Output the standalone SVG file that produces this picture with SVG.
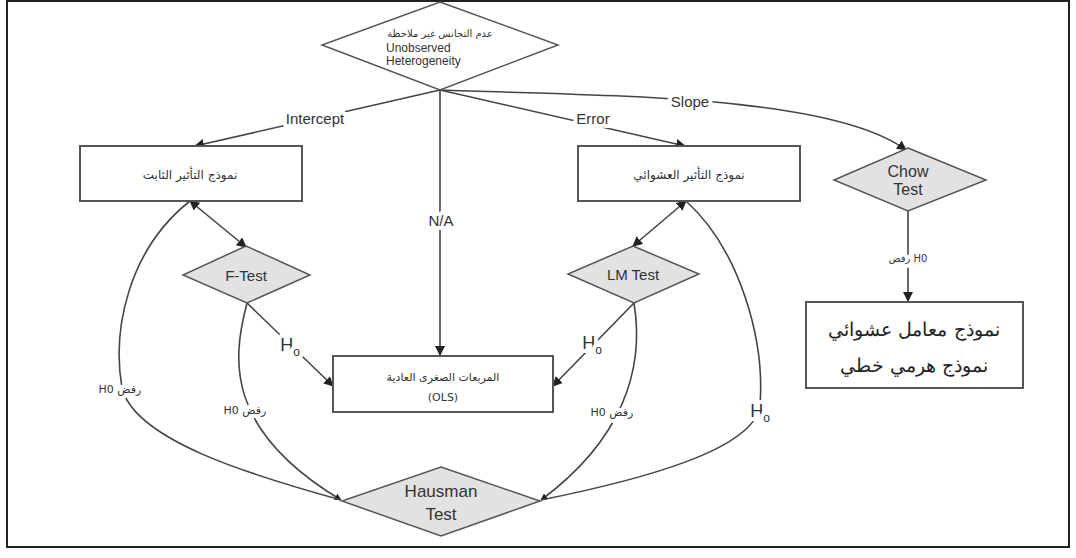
<svg xmlns="http://www.w3.org/2000/svg" width="1076" height="558" viewBox="0 0 1076 558">
<style>
.box{fill:#fff;stroke:#555;stroke-width:2}
.dia{fill:#e2e2e2;stroke:#555;stroke-width:1.5}
.ln{fill:none;stroke:#444;stroke-width:1.6}
.en{font-family:"Liberation Sans",Arial,sans-serif;fill:#333}
.ar{font-family:"DejaVu Sans","Noto Sans",sans-serif;fill:#333}
.lbl{paint-order:stroke;stroke:#fff;stroke-width:8px;stroke-linejoin:round}
</style>
<defs>
<marker id="ah" viewBox="0 0 10 10" refX="9" refY="5" markerWidth="7" markerHeight="7" orient="auto-start-reverse" markerUnits="userSpaceOnUse">
<path d="M0,0 L10,5 L0,10 z" fill="#222"/>
</marker>
<marker id="ah2" viewBox="0 0 10 10" refX="9" refY="5" markerWidth="10" markerHeight="10" orient="auto-start-reverse" markerUnits="userSpaceOnUse">
<path d="M0,0 L10,5 L0,10 z" fill="#222"/>
</marker>
</defs>
<rect x="7" y="1" width="1062" height="546" fill="#fff" stroke="#222" stroke-width="2"/>

<g id="connectors">
<line class="ln" x1="440" y1="90" x2="195" y2="146" marker-end="url(#ah2)"/>
<line class="ln" x1="440" y1="90" x2="440" y2="355" marker-end="url(#ah2)"/>
<line class="ln" x1="440" y1="90" x2="685" y2="146" marker-end="url(#ah2)"/>
<path class="ln" d="M440,90 C600,96 830,94 906,150" marker-end="url(#ah2)"/>
<line class="ln" x1="908" y1="211" x2="908" y2="301" marker-end="url(#ah2)"/>
<line class="ln" x1="190" y1="201" x2="246" y2="247" marker-start="url(#ah2)" marker-end="url(#ah2)"/>
<line class="ln" x1="686" y1="201" x2="633" y2="246" marker-start="url(#ah2)" marker-end="url(#ah2)"/>
<line class="ln" x1="247" y1="303" x2="333" y2="386" marker-end="url(#ah2)"/>
<line class="ln" x1="634" y1="303" x2="553" y2="386" marker-end="url(#ah2)"/>
<path class="ln" d="M247,303 C232,360 225,430 341,500" marker-end="url(#ah)"/>
<path class="ln" d="M190,201 C128,250 112,330 122,388 C135,440 250,475 341,500"/>
<path class="ln" d="M634,303 C645,370 622,440 541,500" marker-end="url(#ah)"/>
<path class="ln" d="M686,201 C740,250 765,340 760,405 C755,450 640,480 541,500"/>

<text class="en lbl" x="315" y="124" font-size="15" text-anchor="middle">Intercept</text>
<text class="en lbl" x="441" y="226" font-size="15" text-anchor="middle">N/A</text>
<text class="en lbl" x="593" y="124" font-size="15" text-anchor="middle">Error</text>
<text class="en lbl" x="690" y="107" font-size="15" text-anchor="middle">Slope</text>
<text class="ar lbl" x="908" y="262" font-size="10" text-anchor="middle" direction="ltr">رفض H0</text>
<text class="en lbl" x="290" y="351" font-size="18" text-anchor="middle">H<tspan font-size="12" dy="5">o</tspan></text>
<text class="en lbl" x="592" y="349" font-size="18" text-anchor="middle">H<tspan font-size="12" dy="5">o</tspan></text>
<text class="en lbl" x="760" y="417" font-size="18" text-anchor="middle">H<tspan font-size="12" dy="5">o</tspan></text>
<text class="ar lbl" x="120" y="393" font-size="11" text-anchor="middle" direction="ltr">H0 رفض</text>
<text class="ar lbl" x="245" y="414" font-size="11" text-anchor="middle" direction="ltr">H0 رفض</text>
<text class="ar lbl" x="612" y="416" font-size="11" text-anchor="middle" direction="ltr">H0 رفض</text>
</g>

<g id="n-top">
<polygon points="440,2 558,45 440,90 322,45" fill="#fff" stroke="#555" stroke-width="1.5"/>
<text class="ar" x="440" y="37" font-size="10" text-anchor="middle">عدم التجانس غير ملاحظة</text>
<text class="en" x="386" y="52" font-size="12">Unobserved</text>
<text class="en" x="386" y="65" font-size="12">Heterogeneity</text>
</g>

<g id="n-fixed">
<rect class="box" x="80" y="146" width="222" height="55"/>
<text class="ar" x="190" y="179" font-size="12" text-anchor="middle">نموذج التأثير الثابت</text>
</g>

<g id="n-random">
<rect class="box" x="578" y="146" width="222" height="55"/>
<text class="ar" x="689" y="179" font-size="12" text-anchor="middle">نموذج التأثير العشوائي</text>
</g>

<g id="n-chow">
<polygon class="dia" points="908,148 986,180 908,211 834,180"/>
<text class="en" x="908" y="177" font-size="16" text-anchor="middle">Chow</text>
<text class="en" x="908" y="195" font-size="16" text-anchor="middle">Test</text>
</g>

<g id="n-hlm">
<rect class="box" x="806" y="302" width="217" height="86"/>
<text x="914" y="336" font-family="'DejaVu Serif','Liberation Serif',serif" font-size="19" text-anchor="middle" fill="#222">نموذج معامل عشوائي</text>
<text x="914" y="372" font-family="'DejaVu Serif','Liberation Serif',serif" font-size="19" text-anchor="middle" fill="#222">نموذج هرمي خطي</text>
</g>

<g id="n-ftest">
<polygon class="dia" points="246,246 310,275 247,303 183,275"/>
<text class="en" x="246" y="281" font-size="15" text-anchor="middle">F-Test</text>
</g>

<g id="n-lmtest">
<polygon class="dia" points="633,246 699,274 634,303 568,274"/>
<text class="en" x="633" y="280" font-size="15" text-anchor="middle">LM Test</text>
</g>

<g id="n-ols">
<rect class="box" x="333" y="356" width="220" height="56"/>
<text class="ar" x="443" y="381" font-size="11" text-anchor="middle">المربعات الصغرى العادية</text>
<text class="ar" x="443" y="401" font-size="11" text-anchor="middle">(OLS)</text>
</g>

<g id="n-hausman">
<polygon class="dia" points="441,467 540,501 441,536 342,501"/>
<text class="en" x="441" y="497" font-size="17" text-anchor="middle">Hausman</text>
<text class="en" x="441" y="520" font-size="17" text-anchor="middle">Test</text>
</g>
</svg>
